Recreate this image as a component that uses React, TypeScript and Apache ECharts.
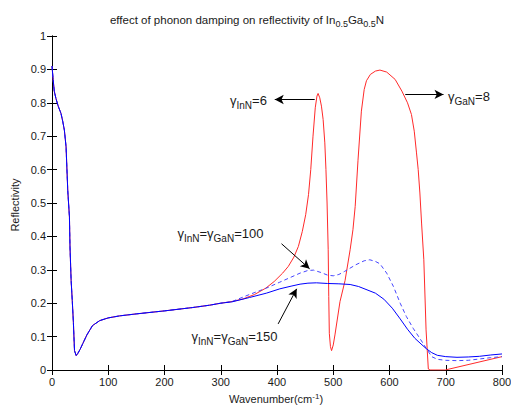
import React, { useEffect, useRef } from 'react';
import * as echarts from 'echarts';

const FONT = "'Liberation Sans', Arial, Helvetica, sans-serif";
const INK = '#1a1a1a';

// shared low-wavenumber part of all three curves [wavenumber, reflectivity]
const commonCurve: number[][] = [
  [0, 0.91], [2, 0.87], [4, 0.835], [7, 0.813], [11, 0.79], [16, 0.768], [19, 0.745], [22, 0.718],
  [25, 0.668], [28, 0.538], [31, 0.458], [32, 0.368], [34, 0.268], [36, 0.208], [38, 0.143],
  [40, 0.058], [43, 0.043], [46, 0.05], [50, 0.062], [55, 0.08], [62, 0.105], [72, 0.133],
  [85, 0.148], [100, 0.156], [120, 0.162], [150, 0.168], [200, 0.177], [250, 0.187], [280, 0.194], [300, 0.2],
];

// gamma_InN = 6, gamma_GaN = 8
const redTail: number[][] = [
  [320, 0.205], [340, 0.213], [360, 0.226], [380, 0.245], [395, 0.265], [410, 0.29], [420, 0.31],
  [430, 0.338], [438, 0.37], [445, 0.415], [451, 0.465], [456, 0.525], [460, 0.6], [464, 0.7],
  [468, 0.785], [471, 0.82], [473, 0.828], [476, 0.815], [479, 0.79], [482, 0.75], [485, 0.68],
  [487, 0.6], [489, 0.5], [491, 0.36], [492, 0.22], [493, 0.11], [495, 0.07], [497, 0.058],
  [500, 0.075], [503, 0.105], [512, 0.205], [521, 0.268], [530, 0.36], [535, 0.42], [539, 0.49],
  [544, 0.628], [550, 0.775], [555, 0.84], [559, 0.866], [566, 0.885], [575, 0.895], [583, 0.898],
  [595, 0.892], [610, 0.87], [622, 0.835], [632, 0.8], [639, 0.765], [644, 0.715], [648, 0.65],
  [651, 0.6], [654, 0.53], [657, 0.44], [661, 0.33], [665, 0.12], [669, 0.003], [672, 0],
  [699, 0], [800, 0.04],
];

// gamma_InN = gamma_GaN = 100
const dashedTail: number[][] = [
  [320, 0.205], [351, 0.226], [381, 0.245], [405, 0.263], [425, 0.278], [441, 0.29], [455, 0.298],
  [465, 0.299], [478, 0.292], [490, 0.284], [500, 0.282], [510, 0.286], [520, 0.295], [540, 0.315],
  [555, 0.327], [565, 0.33], [575, 0.325], [583, 0.318], [595, 0.29], [607, 0.25], [619, 0.2],
  [630, 0.16], [642, 0.125], [655, 0.092], [666, 0.063], [675, 0.04], [685, 0.032], [700, 0.029],
  [720, 0.028], [740, 0.029], [760, 0.033], [780, 0.037], [800, 0.04],
];

// gamma_InN = gamma_GaN = 150
const solidTail: number[][] = [
  [320, 0.204], [351, 0.217], [381, 0.23], [405, 0.243], [425, 0.251], [441, 0.257], [455, 0.26],
  [470, 0.261], [490, 0.259], [510, 0.258], [530, 0.256], [545, 0.25], [560, 0.24], [575, 0.23],
  [590, 0.212], [605, 0.185], [619, 0.153], [632, 0.122], [645, 0.095], [656, 0.078], [666, 0.063],
  [675, 0.052], [685, 0.044], [700, 0.04], [720, 0.038], [740, 0.039], [760, 0.041], [780, 0.045], [800, 0.048],
];

// annotation labels (rich text) and their arrows, in data coordinates
const annoLabels = [
  '{a|γ}{s|InN}{a|=6}',
  '{a|γ}{s|GaN}{a|=8}',
  '{a|γ}{s|InN}{a|=γ}{s|GaN}{a|=100}',
  '{a|γ}{s|InN}{a|=γ}{s|GaN}{a|=150}',
];
const annoAnchors: number[][] = [[382, 0.808], [704, 0.82], [223, 0.41], [248, 0.1]];
const annoAlign = ['right', 'left', 'left', 'left'];
const arrows: number[][][] = [
  [[467, 0.81], [396, 0.81]],
  [[628, 0.825], [696, 0.825]],
  [[408, 0.378], [458, 0.303]],
  [[402, 0.138], [435, 0.243]],
];

const titleText = '{a|effect of phonon damping on reflectivity of In}{s|0.5}{a|Ga}{s|0.5}{a|N}';
const xName = '{a|Wavenumber(cm}{p|-1}{a|)}';
const yName = 'Reflectivity';

export default function App() {
  const ref = useRef<HTMLDivElement>(null);
  useEffect(() => {
    document.body.style.margin = '0';
    const chart = echarts.init(ref.current!, null, { renderer: 'svg' });
    const axisCommon = {
      min: 0,
      axisLine: { show: true, lineStyle: { color: '#000', width: 1 } },
      axisTick: { show: true, inside: true, length: 5, lineStyle: { color: '#000' } },
      splitLine: { show: false },
    };
    const labelStyle = { color: INK, fontSize: 11, fontFamily: FONT };
    chart.setOption({
      animation: false,
      backgroundColor: '#fff',
      grid: { left: 52, right: 9, top: 36, bottom: 37, containLabel: false, outerBoundsMode: 'none' },
      xAxis: [
        { ...axisCommon, type: 'value', max: 800, interval: 100, position: 'bottom',
          axisLabel: { ...labelStyle, margin: 6 } },
        { ...axisCommon, type: 'value', max: 800, interval: 100, position: 'top', axisLabel: { show: false } },
      ],
      yAxis: [
        { ...axisCommon, type: 'value', max: 1, interval: 0.1, position: 'left',
          axisLabel: { ...labelStyle, margin: 6 } },
        { ...axisCommon, type: 'value', max: 1, interval: 0.1, position: 'right', axisLabel: { show: false } },
      ],
      series: [
        {
          type: 'line', data: [...commonCurve, ...redTail], showSymbol: false, symbol: 'none',
          lineStyle: { color: '#ff2a2a', width: 1 }, z: 2,
          markLine: {
            silent: true, symbol: ['none', 'arrow'], symbolSize: [7, 9],
            lineStyle: { color: '#000', width: 1, type: 'solid' },
            label: { show: false },
            data: arrows.map((a) => [{ coord: a[0] }, { coord: a[1] }]),
          },
        },
        {
          type: 'line', data: [...commonCurve, ...dashedTail], showSymbol: false, symbol: 'none',
          lineStyle: { color: '#4646ff', width: 1, type: [4, 3] }, z: 3,
        },
        {
          type: 'line', data: [...commonCurve, ...solidTail], showSymbol: false, symbol: 'none',
          lineStyle: { color: '#0000ff', width: 1 }, z: 4,
        },
      ],
    });

    const richAnno = {
      a: { fontSize: 13, lineHeight: 20, fontFamily: FONT, fill: INK },
      s: { fontSize: 10, lineHeight: 10, verticalAlign: 'bottom', fontFamily: FONT, fill: INK },
    };
    const graphics: any[] = annoLabels.map((t, i) => {
      const p = chart.convertToPixel({ gridIndex: 0 }, annoAnchors[i]) as number[];
      return {
        type: 'text', x: p[0], y: p[1], z: 10,
        style: { text: t, rich: richAnno, align: annoAlign[i], verticalAlign: 'middle', fill: INK, fontFamily: FONT },
      };
    });
    graphics.push({
      type: 'text', x: 247, y: 20, z: 10,
      style: {
        text: titleText, align: 'center', verticalAlign: 'middle', fill: INK,
        rich: {
          a: { fontSize: 11.5, lineHeight: 16, fontFamily: FONT, fill: INK },
          s: { fontSize: 9, lineHeight: 9, verticalAlign: 'bottom', fontFamily: FONT, fill: INK },
        },
      },
    });
    graphics.push({
      type: 'text', x: 276, y: 399, z: 10,
      style: {
        text: xName, align: 'center', verticalAlign: 'middle', fill: INK,
        rich: {
          a: { fontSize: 11, lineHeight: 14, fontFamily: FONT, fill: INK },
          p: { fontSize: 8, lineHeight: 8, verticalAlign: 'top', fontFamily: FONT, fill: INK },
        },
      },
    });
    graphics.push({
      type: 'text', x: 15, y: 205, rotation: Math.PI / 2, z: 10,
      style: { text: yName, align: 'center', verticalAlign: 'middle', fill: INK, fontSize: 11, fontFamily: FONT },
    });
    chart.setOption({ graphic: graphics });
    return () => chart.dispose();
  }, []);
  return <div ref={ref} style={{ width: 511, height: 407 }} />;
}
